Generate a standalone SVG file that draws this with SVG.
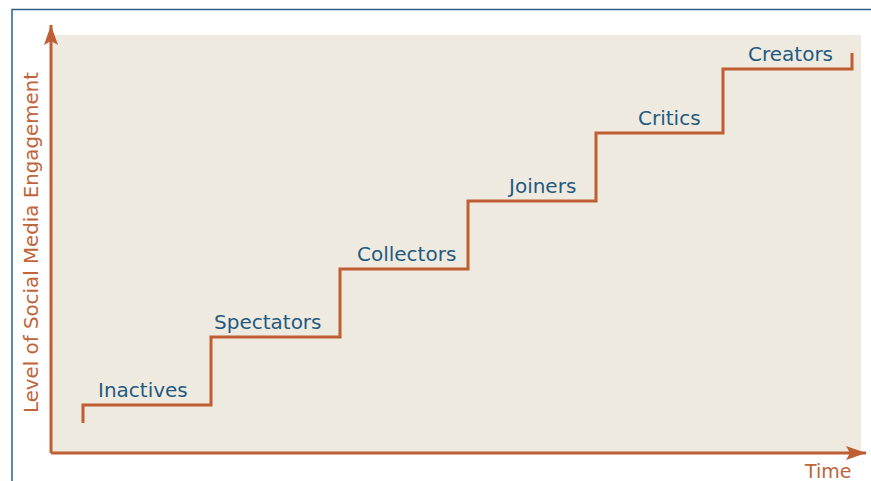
<svg xmlns="http://www.w3.org/2000/svg" width="871" height="481" viewBox="0 0 871 481">
<defs>
<style>
.frame{fill:none;stroke:#2d5f88;stroke-width:1.5}
.axis{fill:none;stroke:#bf5d33;stroke-width:3}
.step{fill:none;stroke:#bf5d33;stroke-width:3;stroke-linejoin:miter}
.lbl{font-family:"DejaVu Sans","Liberation Sans",sans-serif;font-size:20px;fill:#1f5a80}
.ax{font-family:"DejaVu Sans","Liberation Sans",sans-serif;font-size:19px;fill:#c0643a}
</style>
<marker id="arr" viewBox="0 0 20 14" refX="20" refY="7" markerWidth="20" markerHeight="14" markerUnits="userSpaceOnUse" orient="auto">
<path d="M0,0 L20,7 L0,14 L4,7 Z" fill="#bf5d33"/>
</marker>
</defs>
<rect x="0" y="0" width="871" height="481" fill="#ffffff"/>
<path class="frame" d="M12,481 V9.5 H871"/>
<rect x="51" y="35" width="810" height="418" fill="#efeae0"/>
<g id="connectors">
<path class="axis" d="M51,453 V25" marker-end="url(#arr)"/>
<path class="axis" d="M51,453 H866" marker-end="url(#arr)"/>
<path class="step" d="M83,423 V405 H211 V337 H340 V269 H468 V201 H596 V133 H723 V69 H852 V53"/>
</g>
<g id="inactives"><text class="lbl" x="98" y="397">Inactives</text></g>
<g id="spectators"><text class="lbl" x="214" y="329">Spectators</text></g>
<g id="collectors"><text class="lbl" x="357" y="261">Collectors</text></g>
<g id="joiners"><text class="lbl" x="509" y="193">Joiners</text></g>
<g id="critics"><text class="lbl" x="638" y="125">Critics</text></g>
<g id="creators"><text class="lbl" x="748" y="61">Creators</text></g>
<g id="y-label"><text class="ax" transform="translate(38,413) rotate(-90)" x="0" y="0" textLength="341" lengthAdjust="spacingAndGlyphs">Level of Social Media Engagement</text></g>
<g id="x-label"><text class="ax" x="805" y="478">Time</text></g>
</svg>
